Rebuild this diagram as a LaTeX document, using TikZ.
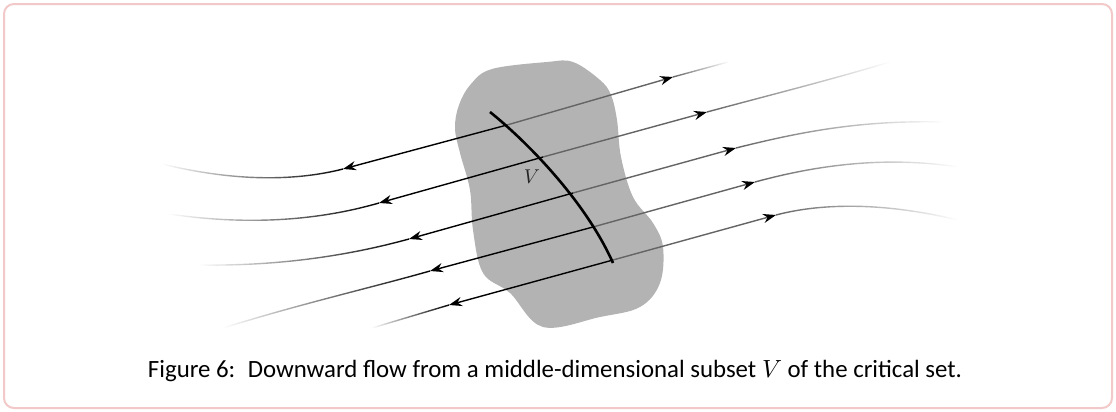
\documentclass[tikz,border=0pt]{standalone}
\usepackage{fontspec}
\setsansfont{Carlito}
\usetikzlibrary{arrows.meta,fadings}
\definecolor{framecol}{RGB}{242,200,200}
\definecolor{blobgray}{RGB}{179,179,179}
\definecolor{flowgray}{RGB}{100,100,100}
\tikzfading[name=fadeL, left color=transparent!100, middle color=transparent!45, right color=transparent!0]
\tikzfading[name=fadeR, left color=transparent!0, middle color=transparent!45, right color=transparent!100]
\tikzset{
  tipL/.style={-{Stealth[length=6.5pt,width=4.6pt,color=black]}},
  leftin/.style={black, line width=0.7pt, tipL},
  leftout/.style={black, line width=0.7pt, path fading=fadeL},
  rightin/.style={flowgray, line width=0.7pt, tipL},
  rightout/.style={flowgray, line width=0.7pt, path fading=fadeR},
  vcurve/.style={black, line width=1.3pt},
  frame/.style={draw=framecol, line width=1pt, rounded corners=5pt},
}
\begin{document}
\begin{tikzpicture}[x=0.5pt,y=-0.5pt]
\useasboundingbox (0,0) rectangle (1116,412);
\draw[frame] (4,4) rectangle (1112,408);

% blob
\fill[blobgray] plot[smooth cycle, tension=0.6] coordinates {
 (492,69) (547,62) (573,62) (600,80) (611,95) (617,120) (621,157) (633,197)
 (653,223) (663,247) (660,283) (640,307) (600,317) (543,327) (510,293)
 (483,273) (473,230) (470,190) (460,153) (455,128) (459,105) (471,84)};

% crossing points with V
\coordinate (C1) at (507,125);
\coordinate (C2) at (543,157);
\coordinate (C3) at (573,193);
\coordinate (C4) at (593,227);
\coordinate (C5) at (613,260);
% left arrow tips and ends
\coordinate (L1) at (343,169); \coordinate (E1) at (162,164);
\coordinate (L2) at (379,203); \coordinate (E2) at (169,214);
\coordinate (L3) at (409,239); \coordinate (E3) at (200,265);
\coordinate (L4) at (430,271); \coordinate (E4) at (223,328);
\coordinate (L5) at (449,305); \coordinate (E5) at (372,328);
% right arrow tips and ends
\coordinate (R1) at (673,77);  \coordinate (F1) at (728,62);
\coordinate (R2) at (707,112); \coordinate (F2) at (890,62);
\coordinate (R3) at (736,148); \coordinate (F3) at (943,122);
\coordinate (R4) at (755,182); \coordinate (F4) at (958,167);
\coordinate (R5) at (776,215); \coordinate (F5) at (958,220);

% left parts
\draw[leftin] (C1) -- (L1);
\draw[leftout] (L1) .. controls (300,180) and (240,183) .. (E1);
\draw[leftin] (C2) -- (L2);
\draw[leftout] (L2) .. controls (320,220) and (250,226) .. (E2);
\draw[leftin] (C3) -- (L3);
\draw[leftout] (L3) .. controls (340,258) and (270,266) .. (E3);
\draw[leftin] (C4) -- (L4);
\draw[leftout] (L4) .. controls (370,288) and (300,304) .. (E4);
\draw[leftin] (C5) -- (L5);
\draw[leftout] (L5) -- (E5);

% right parts
\draw[rightin] (C1) -- (R1);
\draw[rightout] (R1) -- (F1);
\draw[rightin] (C2) -- (R2);
\draw[rightout] (R2) .. controls (770,95) and (830,80) .. (F2);
\draw[rightin] (C3) -- (R3);
\draw[rightout] (R3) .. controls (800,132) and (860,120) .. (F3);
\draw[rightin] (C4) -- (R4);
\draw[rightout] (R4) .. controls (810,167) and (880,155) .. (F4);
\draw[rightin] (C5) -- (R5);
\draw[rightout] (R5) .. controls (810,206) and (870,199) .. (F5);

% V
\coordinate (Vtop) at (490,112);
\coordinate (Vbot) at (613,263);
\draw[vcurve] (Vtop) .. controls (525,140) and (585,200) .. (Vbot);
\node[black!85, font=\fontsize{10}{12}\selectfont] (Vlab) at (532,177) {$V$};

% caption
\node[anchor=base] (cap) at (555,377) {\resizebox{407pt}{!}{\sffamily Figure 6:\hspace{0.5em}Downward flow from a middle-dimensional subset $V$ of the critical set.}};
\end{tikzpicture}
\end{document}
